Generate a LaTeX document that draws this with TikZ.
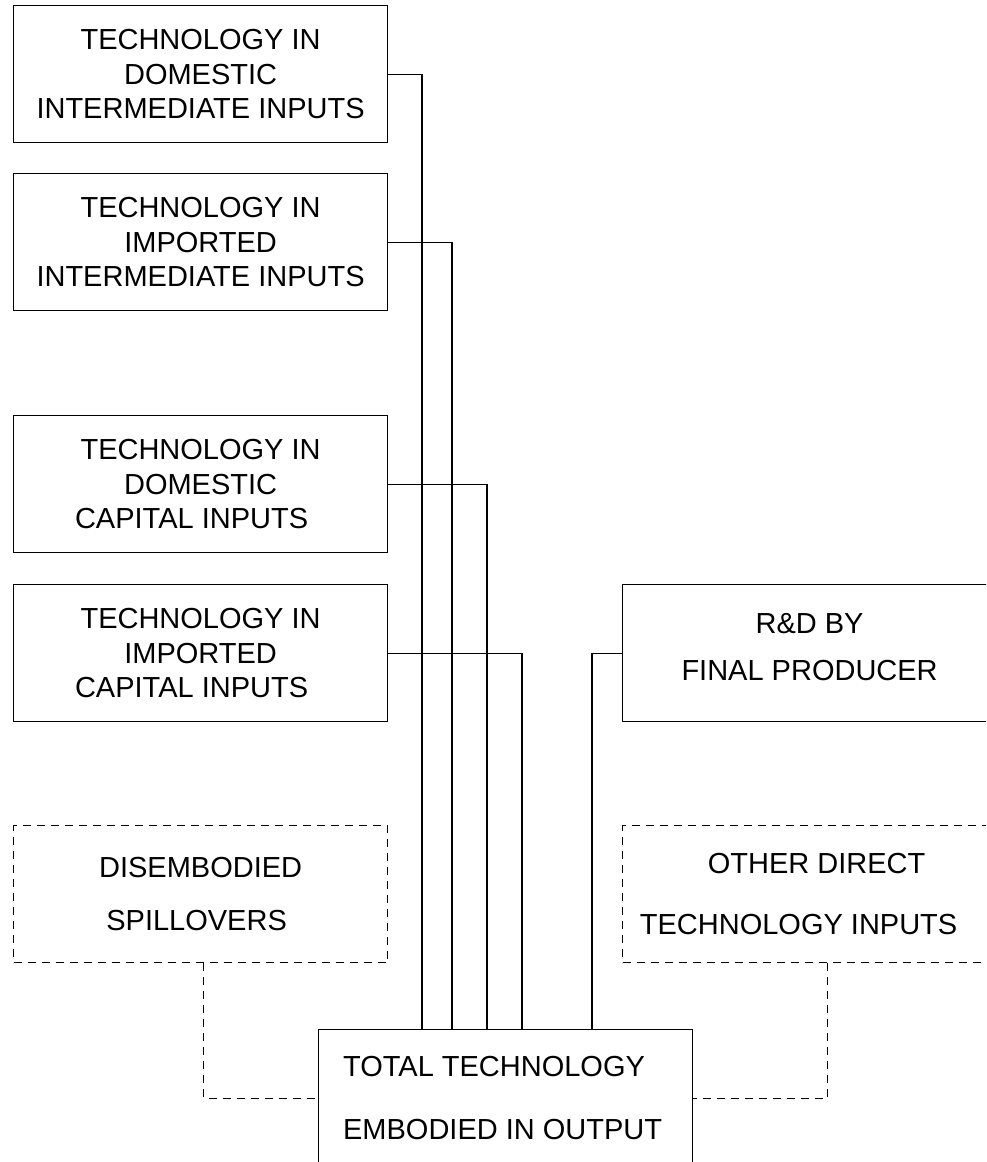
\documentclass[tikz,border=0pt]{standalone}
\usepackage{fontspec}
\setmainfont{Liberation Sans}
\begin{document}
\begin{tikzpicture}[x=1pt,y=-1pt,
  box/.style={draw=black, line width=1.2pt, minimum width=374pt, minimum height=137pt,
    inner sep=0pt, anchor=north west, align=center,
    font=\fontsize{29}{34.5}\selectfont},
  dbox/.style={box, dash pattern=on 8pt off 6pt},
  link/.style={draw=black, line width=1.2pt},
  dlink/.style={link, dash pattern=on 8pt off 6pt}]
\useasboundingbox (0,0) rectangle (986,1162);
\clip (0,0) rectangle (986,1162);
\node[box] (b1) at (13,5) {TECHNOLOGY IN\\DOMESTIC\hspace*{8pt}\\INTERMEDIATE INPUTS};
\node[box] (b2) at (13,173) {TECHNOLOGY IN\\IMPORTED\hspace*{8pt}\\INTERMEDIATE INPUTS};
\node[box] (b3) at (13,415) {TECHNOLOGY IN\\DOMESTIC\hspace*{8pt}\\CAPITAL INPUTS\hspace*{18pt}};
\node[box] (b4) at (13,584) {TECHNOLOGY IN\\IMPORTED\hspace*{8pt}\\CAPITAL INPUTS\hspace*{18pt}};
\node[box] (rd) at (622,584) {R\&D BY\\[12pt]FINAL PRODUCER\\[-22pt]\mbox{}};
\node[dbox] (dis) at (13,825) {DISEMBODIED\\[19pt]SPILLOVERS\hspace*{8pt}};
\node[dbox] (oth) at (622,825) {\hspace*{14pt}OTHER DIRECT\\[26pt]TECHNOLOGY INPUTS\hspace*{22pt}};
\node[box, align=left] (tot) at (318,1029) {TOTAL TECHNOLOGY\\[28pt]EMBODIED IN OUTPUT\hspace*{6pt}};
\draw[link] (b1.east) -| ([xshift=104pt]tot.north west);
\draw[link] (b2.east) -| ([xshift=134pt]tot.north west);
\draw[link] (b3.east) -| ([xshift=169pt]tot.north west);
\draw[link] (b4.east) -| ([xshift=204pt]tot.north west);
\draw[link] (rd.west) -| ([xshift=274pt]tot.north west);
\draw[dlink] ([xshift=3pt]dis.south) |- (tot.west);
\draw[dlink] ([xshift=18pt]oth.south) |- (tot.east);
\end{tikzpicture}
\end{document}
